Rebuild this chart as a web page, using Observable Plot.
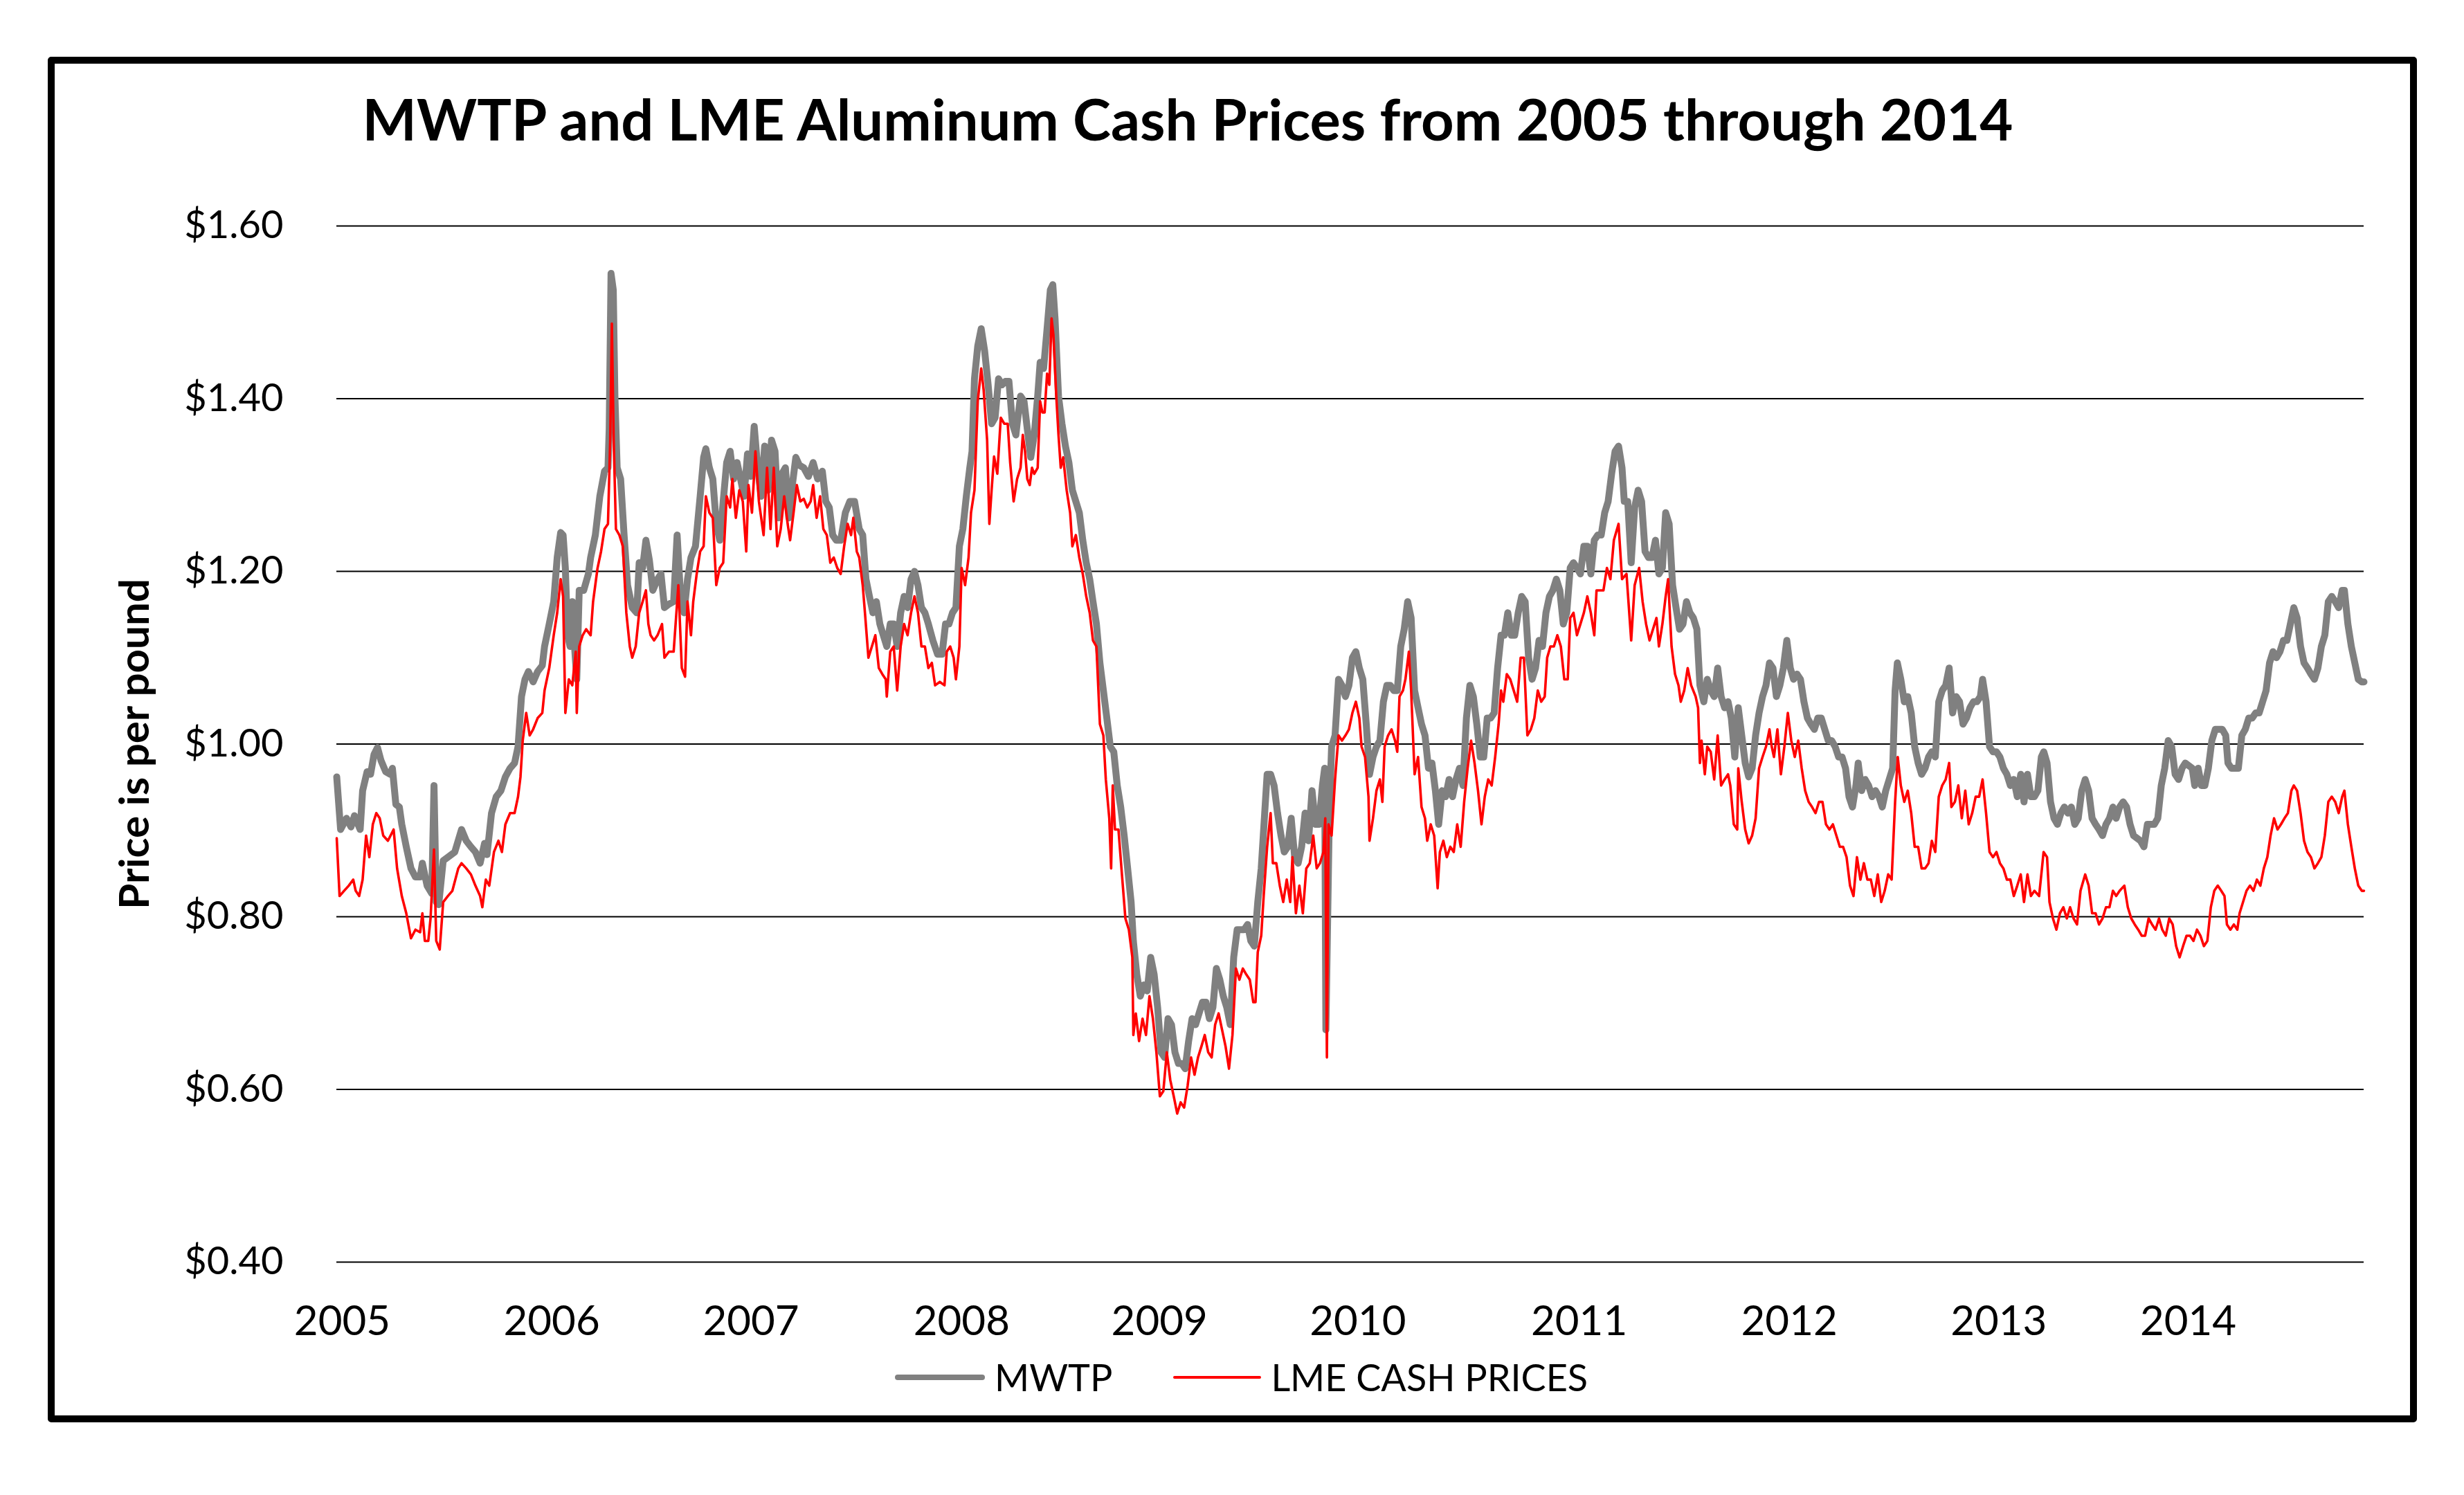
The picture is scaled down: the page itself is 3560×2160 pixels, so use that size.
<!DOCTYPE html>
<html>
<head>
<meta charset="utf-8">
<script src="https://cdn.jsdelivr.net/npm/d3@7"></script>
<script src="https://cdn.jsdelivr.net/npm/@observablehq/plot@0.6"></script>
<style>
html, body { margin: 0; padding: 0; background: #fff; }
#page { position: relative; width: 3560px; height: 2160px; background: #fff; overflow: hidden; font-family: Lato, "Open Sans", sans-serif; color: #000; }
#frame { position: absolute; left: 69px; top: 82px; width: 3423px; height: 1973px; box-sizing: border-box; border: 10px solid #000; border-radius: 5px; }
#title { position: absolute; left: 1716px; top: 130px; transform: translateX(-50%); white-space: nowrap; font-size: 83px; font-weight: 700; line-height: 1; }
#chart { position: absolute; left: 0; top: 250px; }
#legend { position: absolute; left: 1293px; top: 1963px; display: flex; align-items: center; font-size: 54px; line-height: 1; white-space: nowrap; }
.sw { display: inline-block; border-radius: 4px; }
</style>
</head>
<body>
<div id="page">
  <div id="frame"></div>
  <div id="title">MWTP and LME Aluminum Cash Prices from 2005 through 2014</div>
  <div id="chart"></div>
  <div id="legend"></div>
</div>
<script>
// ---- data (fractional year, price in $ per pound) ----
const seriesNames = ["MWTP", "LME CASH PRICES"];
const seriesColors = ["#808080", "#ff0000"];
const priceTicks = [0.4, 0.6, 0.8, 1.0, 1.2, 1.4, 1.6];
const yearTickPos = [2005.027, 2006.054, 2007.031, 2008.064, 2009.034, 2010.007, 2011.092, 2012.122, 2013.149, 2014.078];
const yearTickLabels = ["2005", "2006", "2007", "2008", "2009", "2010", "2011", "2012", "2013", "2014"];
const yTitle = "Price is per pound";

const mwtp = [
[2005.000,0.962],[2005.019,0.901],[2005.048,0.914],[2005.070,0.904],[2005.087,0.917],[2005.115,0.901],[2005.127,0.946],[2005.149,0.968],[2005.166,0.965],[2005.183,0.988],[2005.200,0.996],[2005.217,0.981],[2005.240,0.968],[2005.262,0.965],[2005.273,0.972],[2005.290,0.930],[2005.307,0.927],[2005.319,0.907],[2005.341,0.881],[2005.364,0.856],[2005.386,0.846],[2005.409,0.846],[2005.420,0.862],[2005.443,0.836],[2005.466,0.827],[2005.477,0.952],[2005.488,0.817],[2005.500,0.814],[2005.522,0.865],[2005.545,0.869],[2005.579,0.875],[2005.612,0.901],[2005.635,0.888],[2005.658,0.881],[2005.680,0.875],[2005.703,0.862],[2005.725,0.885],[2005.737,0.872],[2005.759,0.920],[2005.782,0.939],[2005.805,0.946],[2005.827,0.962],[2005.850,0.972],[2005.872,0.978],[2005.889,0.997],[2005.906,1.055],[2005.923,1.075],[2005.940,1.084],[2005.963,1.072],[2005.985,1.084],[2006.008,1.091],[2006.019,1.113],[2006.042,1.139],[2006.064,1.165],[2006.081,1.216],[2006.098,1.245],[2006.110,1.242],[2006.121,1.204],[2006.132,1.126],[2006.144,1.113],[2006.155,1.165],[2006.166,1.113],[2006.177,1.075],[2006.189,1.178],[2006.211,1.178],[2006.234,1.197],[2006.245,1.216],[2006.268,1.242],[2006.290,1.287],[2006.313,1.316],[2006.330,1.320],[2006.336,1.365],[2006.345,1.545],[2006.356,1.526],[2006.364,1.403],[2006.375,1.320],[2006.392,1.307],[2006.409,1.242],[2006.426,1.184],[2006.449,1.158],[2006.471,1.152],[2006.483,1.210],[2006.500,1.204],[2006.516,1.236],[2006.533,1.213],[2006.550,1.178],[2006.573,1.191],[2006.590,1.197],[2006.607,1.158],[2006.629,1.162],[2006.652,1.165],
[2006.669,1.242],[2006.686,1.171],[2006.703,1.152],[2006.720,1.191],[2006.737,1.216],[2006.759,1.229],[2006.782,1.287],[2006.799,1.332],[2006.810,1.342],[2006.827,1.320],[2006.844,1.307],[2006.861,1.255],[2006.878,1.236],[2006.895,1.281],[2006.912,1.326],[2006.929,1.339],[2006.946,1.307],[2006.963,1.326],[2006.980,1.307],[2006.997,1.287],[2007.014,1.336],[2007.030,1.310],[2007.047,1.368],[2007.064,1.320],[2007.081,1.287],[2007.098,1.345],[2007.115,1.294],[2007.132,1.352],[2007.149,1.339],[2007.166,1.262],[2007.183,1.313],[2007.200,1.320],[2007.217,1.262],[2007.234,1.300],[2007.251,1.332],[2007.268,1.323],[2007.290,1.320],[2007.313,1.310],[2007.336,1.326],[2007.358,1.307],[2007.381,1.316],[2007.398,1.281],[2007.415,1.274],[2007.432,1.242],[2007.449,1.236],[2007.471,1.236],[2007.494,1.268],[2007.516,1.281],[2007.539,1.281],[2007.562,1.249],[2007.579,1.242],[2007.595,1.191],[2007.612,1.171],[2007.629,1.152],[2007.646,1.165],[2007.663,1.139],[2007.680,1.126],[2007.697,1.113],[2007.714,1.139],[2007.731,1.139],[2007.748,1.113],[2007.765,1.152],[2007.782,1.171],[2007.799,1.158],[2007.816,1.191],[2007.833,1.200],[2007.850,1.184],[2007.867,1.158],[2007.884,1.152],[2007.901,1.139],[2007.923,1.120],[2007.946,1.104],[2007.968,1.104],[2007.985,1.139],[2008.002,1.139],[2008.019,1.152],[2008.036,1.158],[2008.053,1.229],[2008.070,1.249],[2008.087,1.287],[2008.104,1.320],[2008.115,1.339],[2008.127,1.423],[2008.143,1.461],[2008.160,1.481],[2008.177,1.455],[2008.194,1.416],[2008.211,1.371],[2008.228,1.378],[2008.245,1.423],[2008.262,1.416],[2008.279,1.420],[2008.296,1.420],[2008.313,1.371],[2008.330,1.358],
[2008.336,1.371],[2008.353,1.403],[2008.370,1.397],[2008.386,1.365],[2008.403,1.332],[2008.420,1.358],[2008.437,1.403],[2008.449,1.442],[2008.466,1.435],[2008.483,1.481],[2008.499,1.526],[2008.511,1.532],[2008.522,1.493],[2008.539,1.403],[2008.556,1.371],[2008.573,1.345],[2008.590,1.326],[2008.607,1.294],[2008.624,1.281],[2008.641,1.268],[2008.658,1.236],[2008.675,1.210],[2008.692,1.191],[2008.708,1.165],[2008.725,1.139],[2008.742,1.094],[2008.759,1.062],[2008.776,1.030],[2008.793,0.997],[2008.810,0.991],[2008.827,0.952],[2008.844,0.927],[2008.861,0.894],[2008.878,0.856],[2008.895,0.817],[2008.906,0.772],[2008.923,0.733],[2008.940,0.708],[2008.957,0.721],[2008.974,0.714],[2008.991,0.753],[2009.008,0.733],[2009.025,0.695],[2009.042,0.643],[2009.059,0.637],[2009.076,0.682],[2009.093,0.675],[2009.110,0.643],[2009.127,0.630],[2009.143,0.630],[2009.160,0.624],[2009.177,0.656],[2009.194,0.682],[2009.211,0.675],[2009.228,0.688],[2009.245,0.701],[2009.262,0.701],[2009.279,0.682],[2009.296,0.695],[2009.313,0.740],[2009.330,0.727],[2009.347,0.708],[2009.364,0.695],[2009.381,0.675],[2009.398,0.753],[2009.415,0.785],[2009.432,0.785],[2009.449,0.785],[2009.466,0.791],[2009.482,0.772],[2009.499,0.766],[2009.516,0.817],[2009.533,0.856],[2009.550,0.920],[2009.562,0.965],[2009.579,0.965],[2009.596,0.952],[2009.613,0.920],[2009.630,0.894],[2009.646,0.875],[2009.663,0.881],[2009.680,0.914],[2009.697,0.869],[2009.714,0.862],[2009.731,0.881],[2009.748,0.920],[2009.765,0.888],[2009.782,0.946],[2009.799,0.907],[2009.816,0.907],[2009.833,0.952],[2009.844,0.972],[2009.850,0.669],[2009.867,0.920],[2009.878,0.997],[2009.895,1.010],[2009.912,1.075],[2009.929,1.068],[2009.946,1.055],[2009.963,1.068],[2009.980,1.100],[2009.997,1.107],
[2010.014,1.088],[2010.031,1.075],[2010.048,1.023],[2010.064,0.965],[2010.081,0.985],[2010.098,0.997],[2010.115,1.004],[2010.132,1.049],[2010.149,1.068],[2010.166,1.068],[2010.183,1.062],[2010.200,1.062],[2010.217,1.113],[2010.234,1.133],[2010.251,1.165],[2010.268,1.146],[2010.285,1.062],[2010.302,1.042],[2010.319,1.023],[2010.336,1.010],[2010.353,0.972],[2010.370,0.978],[2010.387,0.946],[2010.403,0.907],[2010.420,0.946],[2010.437,0.939],[2010.454,0.959],[2010.471,0.939],[2010.488,0.959],[2010.505,0.972],[2010.522,0.952],[2010.539,1.030],[2010.556,1.068],[2010.573,1.055],[2010.590,1.023],[2010.607,0.985],[2010.624,0.985],[2010.641,1.030],[2010.658,1.030],[2010.675,1.036],[2010.692,1.088],[2010.709,1.126],[2010.725,1.126],[2010.742,1.152],[2010.759,1.126],[2010.776,1.126],[2010.793,1.152],[2010.810,1.171],[2010.827,1.165],[2010.844,1.100],[2010.861,1.075],[2010.878,1.088],[2010.895,1.120],[2010.912,1.113],[2010.929,1.152],[2010.946,1.171],[2010.963,1.178],[2010.980,1.191],[2010.997,1.178],[2011.014,1.139],[2011.031,1.152],[2011.048,1.204],[2011.064,1.210],[2011.081,1.204],[2011.098,1.197],[2011.115,1.229],[2011.132,1.229],[2011.149,1.197],[2011.166,1.236],[2011.183,1.242],[2011.200,1.242],[2011.217,1.268],[2011.234,1.281],[2011.251,1.313],[2011.268,1.339],[2011.285,1.345],[2011.302,1.320],[2011.313,1.281],[2011.330,1.281],[2011.347,1.210],[2011.364,1.274],[2011.381,1.294],[2011.398,1.281],[2011.415,1.223],[2011.432,1.216],[2011.449,1.216],[2011.466,1.236],[2011.483,1.197],[2011.500,1.204],[2011.516,1.268],[2011.533,1.255],[2011.550,1.184],[2011.567,1.158],[2011.584,1.133],[2011.601,1.139],[2011.618,1.165],[2011.635,1.152],[2011.652,1.146],[2011.669,1.133],[2011.684,1.068],
[2011.703,1.049],[2011.720,1.075],[2011.737,1.062],[2011.754,1.055],[2011.771,1.088],[2011.788,1.055],[2011.805,1.042],[2011.822,1.049],[2011.838,1.030],[2011.855,0.985],[2011.872,1.042],[2011.889,1.010],[2011.906,0.978],[2011.923,0.962],[2011.940,0.972],[2011.957,1.010],[2011.974,1.036],[2011.991,1.055],[2012.008,1.068],[2012.025,1.094],[2012.042,1.088],[2012.059,1.055],[2012.076,1.068],[2012.093,1.088],[2012.110,1.120],[2012.127,1.088],[2012.143,1.075],[2012.160,1.081],[2012.177,1.075],[2012.194,1.049],[2012.211,1.030],[2012.228,1.023],[2012.245,1.017],[2012.262,1.030],[2012.279,1.030],[2012.296,1.017],[2012.313,1.004],[2012.330,1.004],[2012.347,0.997],[2012.364,0.985],[2012.381,0.985],[2012.398,0.972],[2012.415,0.939],[2012.432,0.927],[2012.449,0.952],[2012.460,0.978],[2012.477,0.946],[2012.494,0.959],[2012.511,0.952],[2012.528,0.939],[2012.545,0.946],[2012.562,0.939],[2012.578,0.927],[2012.595,0.946],[2012.612,0.959],[2012.629,0.972],[2012.641,1.062],[2012.652,1.094],[2012.669,1.075],[2012.686,1.049],[2012.703,1.055],[2012.720,1.036],[2012.737,0.997],[2012.754,0.978],[2012.771,0.965],[2012.788,0.972],[2012.805,0.985],[2012.821,0.991],[2012.838,0.985],[2012.855,1.049],[2012.872,1.062],[2012.889,1.068],[2012.906,1.088],[2012.923,1.036],[2012.940,1.055],[2012.957,1.049],[2012.974,1.023],[2012.991,1.030],[2013.008,1.042],[2013.025,1.049],[2013.042,1.049],[2013.059,1.055],[2013.070,1.075],[2013.087,1.049],[2013.104,0.997],[2013.121,0.991],[2013.138,0.991],[2013.155,0.985],[2013.172,0.972],[2013.189,0.965],[2013.206,0.952],[2013.223,0.959],[2013.240,0.939],[2013.257,0.965],[2013.273,0.933],[2013.290,0.965],[2013.307,0.939],[2013.324,0.939],[2013.341,0.946],[2013.358,0.985],
[2013.370,0.991],[2013.386,0.978],[2013.403,0.933],[2013.420,0.914],[2013.437,0.907],[2013.454,0.920],[2013.471,0.927],[2013.488,0.920],[2013.505,0.927],[2013.522,0.907],[2013.539,0.914],[2013.556,0.946],[2013.573,0.959],[2013.590,0.946],[2013.607,0.914],[2013.624,0.907],[2013.641,0.901],[2013.658,0.894],[2013.675,0.907],[2013.692,0.914],[2013.709,0.927],[2013.725,0.914],[2013.742,0.927],[2013.759,0.933],[2013.776,0.927],[2013.793,0.907],[2013.810,0.894],[2013.827,0.891],[2013.844,0.888],[2013.861,0.881],[2013.878,0.907],[2013.895,0.907],[2013.912,0.907],[2013.929,0.914],[2013.946,0.952],[2013.963,0.972],[2013.980,1.004],[2013.997,0.997],[2014.014,0.965],[2014.031,0.959],[2014.048,0.972],[2014.064,0.978],[2014.081,0.975],[2014.098,0.972],[2014.110,0.952],[2014.127,0.972],[2014.143,0.952],[2014.160,0.952],[2014.177,0.972],[2014.194,1.004],[2014.211,1.017],[2014.228,1.017],[2014.245,1.017],[2014.262,1.010],[2014.273,0.978],[2014.290,0.972],[2014.307,0.972],[2014.324,0.972],[2014.341,1.010],[2014.358,1.017],[2014.375,1.030],[2014.392,1.030],[2014.409,1.036],[2014.426,1.036],[2014.443,1.049],[2014.460,1.062],[2014.477,1.094],[2014.494,1.107],[2014.511,1.100],[2014.528,1.107],[2014.545,1.120],[2014.562,1.120],[2014.579,1.139],[2014.596,1.158],[2014.612,1.146],[2014.629,1.113],[2014.646,1.094],[2014.663,1.088],[2014.680,1.081],[2014.697,1.075],[2014.714,1.088],[2014.731,1.113],[2014.748,1.126],[2014.765,1.165],[2014.782,1.171],[2014.799,1.165],[2014.816,1.158],[2014.833,1.178],[2014.844,1.178],[2014.861,1.139],[2014.878,1.113],[2014.895,1.094],[2014.912,1.075],[2014.929,1.072],[2014.940,1.072]
];

const lme = [
[2005.000,0.891],[2005.014,0.824],[2005.036,0.830],[2005.059,0.836],[2005.081,0.843],[2005.093,0.830],[2005.110,0.824],[2005.127,0.843],[2005.144,0.894],[2005.160,0.869],[2005.177,0.907],[2005.194,0.920],[2005.211,0.914],[2005.228,0.894],[2005.251,0.888],[2005.279,0.901],[2005.296,0.856],[2005.319,0.824],[2005.341,0.804],[2005.364,0.775],[2005.386,0.785],[2005.409,0.782],[2005.420,0.804],[2005.432,0.772],[2005.449,0.772],[2005.460,0.798],[2005.477,0.878],[2005.488,0.772],[2005.505,0.762],[2005.522,0.817],[2005.545,0.824],[2005.567,0.830],[2005.596,0.856],[2005.612,0.862],[2005.635,0.856],[2005.658,0.849],[2005.680,0.836],[2005.703,0.824],[2005.714,0.811],[2005.731,0.843],[2005.748,0.836],[2005.771,0.875],[2005.793,0.888],[2005.810,0.875],[2005.827,0.907],[2005.850,0.920],[2005.872,0.920],[2005.889,0.939],[2005.901,0.962],[2005.912,1.004],[2005.929,1.036],[2005.946,1.010],[2005.963,1.017],[2005.985,1.030],[2006.008,1.036],[2006.019,1.062],[2006.042,1.088],[2006.064,1.126],[2006.081,1.152],[2006.098,1.191],[2006.110,1.171],[2006.121,1.036],[2006.138,1.075],[2006.155,1.068],[2006.172,1.107],[2006.177,1.036],[2006.189,1.113],[2006.206,1.126],[2006.223,1.133],[2006.245,1.126],[2006.257,1.165],[2006.279,1.204],[2006.296,1.223],[2006.313,1.249],[2006.330,1.255],[2006.341,1.352],[2006.349,1.487],[2006.358,1.352],[2006.369,1.249],[2006.386,1.242],[2006.403,1.229],[2006.420,1.152],[2006.437,1.113],[2006.449,1.100],[2006.466,1.113],[2006.483,1.152],[2006.500,1.165],[2006.516,1.178],[2006.528,1.139],[2006.539,1.126],[2006.556,1.120],[2006.573,1.126],[2006.595,1.139],[2006.607,1.100],[2006.629,1.107],[2006.652,1.107],
[2006.675,1.184],[2006.692,1.088],[2006.708,1.078],[2006.720,1.165],[2006.737,1.126],[2006.748,1.165],[2006.765,1.197],[2006.782,1.223],[2006.799,1.229],[2006.810,1.287],[2006.827,1.268],[2006.844,1.262],[2006.861,1.184],[2006.878,1.204],[2006.895,1.210],[2006.912,1.287],[2006.929,1.274],[2006.940,1.307],[2006.957,1.262],[2006.974,1.294],[2006.991,1.281],[2007.008,1.223],[2007.019,1.300],[2007.036,1.268],[2007.053,1.339],[2007.070,1.281],[2007.093,1.242],[2007.110,1.320],[2007.127,1.249],[2007.143,1.320],[2007.160,1.229],[2007.177,1.249],[2007.194,1.287],[2007.211,1.255],[2007.223,1.236],[2007.240,1.268],[2007.256,1.300],[2007.273,1.281],[2007.290,1.284],[2007.307,1.274],[2007.324,1.281],[2007.336,1.300],[2007.353,1.262],[2007.370,1.287],[2007.386,1.249],[2007.403,1.242],[2007.420,1.210],[2007.437,1.216],[2007.454,1.204],[2007.471,1.197],[2007.488,1.229],[2007.505,1.255],[2007.522,1.242],[2007.533,1.262],[2007.550,1.223],[2007.562,1.216],[2007.579,1.184],[2007.590,1.152],[2007.607,1.100],[2007.624,1.113],[2007.641,1.126],[2007.658,1.088],[2007.675,1.081],[2007.692,1.075],[2007.697,1.055],[2007.714,1.107],[2007.731,1.113],[2007.748,1.062],[2007.765,1.113],[2007.782,1.139],[2007.799,1.126],[2007.816,1.152],[2007.833,1.171],[2007.850,1.152],[2007.867,1.113],[2007.884,1.113],[2007.901,1.088],[2007.918,1.094],[2007.934,1.068],[2007.957,1.072],[2007.980,1.068],[2007.991,1.107],[2008.008,1.113],[2008.025,1.100],[2008.036,1.075],[2008.053,1.113],[2008.064,1.204],[2008.081,1.184],[2008.098,1.216],[2008.110,1.268],[2008.127,1.294],[2008.143,1.397],[2008.160,1.435],[2008.172,1.410],[2008.189,1.352],[2008.200,1.255],[2008.211,1.294],[2008.223,1.333],[2008.239,1.313],[2008.256,1.378],[2008.273,1.371],[2008.290,1.371],[2008.302,1.326],[2008.319,1.281],[2008.336,1.307],
[2008.353,1.320],[2008.364,1.358],[2008.375,1.339],[2008.386,1.307],[2008.398,1.300],[2008.409,1.320],[2008.420,1.313],[2008.437,1.320],[2008.449,1.397],[2008.460,1.384],[2008.471,1.384],[2008.483,1.429],[2008.494,1.416],[2008.505,1.493],[2008.514,1.474],[2008.528,1.403],[2008.539,1.358],[2008.550,1.320],[2008.562,1.332],[2008.579,1.294],[2008.596,1.268],[2008.607,1.229],[2008.624,1.242],[2008.641,1.216],[2008.658,1.197],[2008.675,1.171],[2008.692,1.152],[2008.708,1.120],[2008.725,1.113],[2008.742,1.023],[2008.759,1.010],[2008.771,0.959],[2008.788,0.914],[2008.797,0.856],[2008.805,0.952],[2008.816,0.901],[2008.833,0.901],[2008.850,0.849],[2008.867,0.798],[2008.884,0.785],[2008.901,0.753],[2008.906,0.663],[2008.918,0.688],[2008.934,0.656],[2008.951,0.682],[2008.968,0.663],[2008.985,0.708],[2009.002,0.682],[2009.019,0.643],[2009.036,0.592],[2009.053,0.598],[2009.070,0.643],[2009.087,0.611],[2009.104,0.592],[2009.121,0.572],[2009.138,0.585],[2009.155,0.579],[2009.172,0.604],[2009.189,0.637],[2009.206,0.617],[2009.223,0.637],[2009.240,0.650],[2009.256,0.663],[2009.273,0.643],[2009.290,0.637],[2009.307,0.675],[2009.324,0.688],[2009.341,0.669],[2009.358,0.650],[2009.375,0.624],[2009.392,0.663],[2009.409,0.740],[2009.426,0.727],[2009.443,0.740],[2009.460,0.733],[2009.477,0.727],[2009.494,0.701],[2009.505,0.701],[2009.516,0.759],[2009.533,0.778],[2009.545,0.824],[2009.562,0.881],[2009.579,0.920],[2009.590,0.862],[2009.607,0.862],[2009.624,0.836],[2009.641,0.817],[2009.658,0.843],[2009.675,0.817],[2009.686,0.869],[2009.703,0.804],[2009.720,0.836],[2009.737,0.804],[2009.754,0.856],[2009.771,0.862],[2009.788,0.894],[2009.805,0.856],[2009.821,0.862],[2009.838,0.875],[2009.847,0.914],[2009.855,0.637],[2009.863,0.907],[2009.878,0.894],[2009.895,0.959],[2009.912,1.010],[2009.929,1.004],[2009.946,1.010],[2009.963,1.017],[2009.980,1.036],[2009.997,1.049],[2010.014,1.030],
[2010.025,0.997],[2010.042,0.985],[2010.059,0.939],[2010.064,0.888],[2010.081,0.914],[2010.098,0.946],[2010.115,0.959],[2010.127,0.933],[2010.138,0.997],[2010.155,1.010],[2010.172,1.017],[2010.189,1.004],[2010.200,0.991],[2010.211,1.055],[2010.228,1.062],[2010.240,1.075],[2010.257,1.107],[2010.268,1.062],[2010.285,0.965],[2010.302,0.985],[2010.319,0.927],[2010.336,0.914],[2010.347,0.888],[2010.364,0.907],[2010.381,0.894],[2010.398,0.833],[2010.409,0.875],[2010.426,0.888],[2010.443,0.869],[2010.460,0.881],[2010.477,0.875],[2010.494,0.907],[2010.511,0.881],[2010.528,0.933],[2010.545,0.972],[2010.562,1.004],[2010.579,0.978],[2010.596,0.946],[2010.613,0.907],[2010.629,0.939],[2010.646,0.959],[2010.663,0.952],[2010.680,0.985],[2010.697,1.023],[2010.709,1.062],[2010.720,1.049],[2010.737,1.081],[2010.754,1.075],[2010.771,1.062],[2010.788,1.049],[2010.805,1.100],[2010.821,1.100],[2010.838,1.010],[2010.855,1.017],[2010.872,1.030],[2010.889,1.062],[2010.906,1.049],[2010.923,1.055],[2010.935,1.100],[2010.951,1.113],[2010.968,1.113],[2010.985,1.126],[2011.002,1.113],[2011.019,1.075],[2011.036,1.075],[2011.048,1.146],[2011.064,1.152],[2011.081,1.126],[2011.098,1.139],[2011.115,1.152],[2011.132,1.171],[2011.149,1.152],[2011.166,1.126],[2011.177,1.178],[2011.194,1.178],[2011.211,1.178],[2011.228,1.204],[2011.245,1.191],[2011.262,1.236],[2011.285,1.255],[2011.302,1.191],[2011.324,1.197],[2011.347,1.120],[2011.364,1.184],[2011.386,1.204],[2011.403,1.165],[2011.420,1.139],[2011.437,1.120],[2011.454,1.133],[2011.471,1.146],[2011.483,1.113],[2011.500,1.139],[2011.516,1.171],[2011.528,1.191],[2011.545,1.113],[2011.562,1.081],[2011.579,1.068],[2011.590,1.049],[2011.607,1.062],[2011.624,1.088],[2011.641,1.068],[2011.663,1.055],[2011.675,1.042],[2011.684,0.978],[2011.692,1.004],
[2011.708,0.965],[2011.720,0.997],[2011.737,0.991],[2011.754,0.959],[2011.771,1.010],[2011.788,0.952],[2011.805,0.959],[2011.822,0.965],[2011.833,0.952],[2011.850,0.907],[2011.867,0.901],[2011.872,0.972],[2011.889,0.933],[2011.906,0.901],[2011.923,0.885],[2011.940,0.894],[2011.957,0.914],[2011.974,0.972],[2011.991,0.985],[2012.008,0.997],[2012.025,1.017],[2012.036,0.997],[2012.047,0.985],[2012.064,1.017],[2012.081,0.965],[2012.098,0.997],[2012.115,1.036],[2012.132,1.004],[2012.149,0.985],[2012.166,1.004],[2012.183,0.972],[2012.200,0.946],[2012.217,0.933],[2012.234,0.927],[2012.251,0.920],[2012.268,0.933],[2012.285,0.933],[2012.302,0.907],[2012.319,0.901],[2012.336,0.907],[2012.353,0.894],[2012.370,0.881],[2012.386,0.881],[2012.403,0.869],[2012.420,0.836],[2012.437,0.824],[2012.454,0.869],[2012.471,0.843],[2012.488,0.862],[2012.505,0.843],[2012.522,0.843],[2012.539,0.824],[2012.556,0.849],[2012.573,0.817],[2012.590,0.830],[2012.607,0.849],[2012.624,0.843],[2012.641,0.933],[2012.654,0.985],[2012.669,0.952],[2012.686,0.933],[2012.703,0.946],[2012.720,0.920],[2012.737,0.881],[2012.754,0.881],[2012.771,0.856],[2012.788,0.856],[2012.805,0.862],[2012.821,0.888],[2012.838,0.875],[2012.855,0.939],[2012.872,0.952],[2012.889,0.959],[2012.906,0.978],[2012.917,0.927],[2012.934,0.933],[2012.951,0.952],[2012.968,0.914],[2012.985,0.946],[2013.002,0.907],[2013.019,0.920],[2013.036,0.939],[2013.053,0.939],[2013.070,0.959],[2013.087,0.920],[2013.104,0.875],[2013.121,0.869],[2013.138,0.875],[2013.155,0.862],[2013.172,0.856],[2013.189,0.843],[2013.206,0.843],[2013.223,0.824],[2013.240,0.836],[2013.257,0.849],[2013.273,0.817],[2013.290,0.849],[2013.307,0.824],[2013.324,0.830],[2013.347,0.824],[2013.361,0.856],[2013.369,0.875],
[2013.386,0.869],[2013.398,0.817],[2013.415,0.798],[2013.432,0.785],[2013.449,0.804],[2013.466,0.811],[2013.483,0.798],[2013.499,0.811],[2013.516,0.798],[2013.533,0.791],[2013.550,0.830],[2013.573,0.849],[2013.590,0.836],[2013.607,0.804],[2013.624,0.804],[2013.641,0.791],[2013.658,0.798],[2013.675,0.811],[2013.692,0.811],[2013.709,0.830],[2013.725,0.824],[2013.742,0.830],[2013.765,0.836],[2013.782,0.811],[2013.799,0.798],[2013.816,0.791],[2013.833,0.785],[2013.850,0.778],[2013.867,0.778],[2013.884,0.798],[2013.901,0.791],[2013.918,0.785],[2013.935,0.798],[2013.951,0.785],[2013.968,0.778],[2013.985,0.798],[2014.002,0.791],[2014.019,0.766],[2014.036,0.753],[2014.053,0.766],[2014.070,0.778],[2014.087,0.778],[2014.104,0.772],[2014.121,0.785],[2014.138,0.778],[2014.155,0.766],[2014.172,0.772],[2014.189,0.811],[2014.206,0.830],[2014.223,0.836],[2014.240,0.830],[2014.256,0.824],[2014.268,0.791],[2014.285,0.785],[2014.302,0.791],[2014.319,0.785],[2014.330,0.804],[2014.347,0.817],[2014.364,0.830],[2014.381,0.836],[2014.398,0.830],[2014.415,0.843],[2014.432,0.836],[2014.449,0.856],[2014.466,0.869],[2014.482,0.894],[2014.499,0.914],[2014.516,0.901],[2014.533,0.907],[2014.550,0.914],[2014.567,0.920],[2014.584,0.946],[2014.596,0.952],[2014.612,0.946],[2014.629,0.920],[2014.646,0.888],[2014.663,0.875],[2014.680,0.869],[2014.697,0.856],[2014.714,0.862],[2014.731,0.869],[2014.748,0.894],[2014.765,0.933],[2014.782,0.939],[2014.799,0.933],[2014.816,0.920],[2014.833,0.939],[2014.844,0.946],[2014.861,0.907],[2014.878,0.881],[2014.895,0.856],[2014.912,0.836],[2014.929,0.830],[2014.940,0.830]
];

// ---- chart ----
const chart = Plot.plot({
  width: 3560,
  height: 1720,
  marginTop: 76,
  marginBottom: 147,
  marginLeft: 486,
  marginRight: 145,
  style: { fontFamily: "Lato, 'Open Sans', sans-serif", background: "transparent", color: "#000", overflow: "visible" },
  x: { type: "linear", domain: [2005, 2014.94] },
  y: { type: "linear", domain: [0.4, 1.6] },
  marks: [
    Plot.gridY(priceTicks, { stroke: "#000", strokeOpacity: 1, strokeWidth: 2 }),
    Plot.axisY(priceTicks, { tickSize: 0, tickPadding: 77, fontSize: 56, tickFormat: d => "$" + d.toFixed(2), label: null }),
    Plot.axisX(yearTickPos, { tickSize: 0, tickPadding: 63, fontSize: 60, tickFormat: d => yearTickLabels[yearTickPos.indexOf(d)], label: null }),
    Plot.text([yTitle], { frameAnchor: "left", textAnchor: "middle", rotate: -90, dx: -291, fontSize: 60, fontWeight: "bold", fill: "#000" }),
    Plot.line(mwtp, { x: d => d[0], y: d => d[1], stroke: seriesColors[0], strokeWidth: 10, strokeLinejoin: "round", strokeLinecap: "round" }),
    Plot.line(lme, { x: d => d[0], y: d => d[1], stroke: seriesColors[1], strokeWidth: 3.6, strokeLinejoin: "round" })
  ]
});
document.getElementById("chart").appendChild(chart);

// ---- legend ----
const legend = document.getElementById("legend");
const swatchW = [130, 127];
const swatchH = [8, 4];
const gapAfter = [88, 0];
seriesNames.forEach((name, i) => {
  const sw = document.createElement("span");
  sw.className = "sw";
  sw.style.width = swatchW[i] + "px";
  sw.style.height = swatchH[i] + "px";
  sw.style.background = seriesColors[i];
  sw.style.marginRight = "14px";
  legend.appendChild(sw);
  const t = document.createElement("span");
  t.textContent = name;
  t.style.marginRight = gapAfter[i] + "px";
  legend.appendChild(t);
});
</script>
</body>
</html>
